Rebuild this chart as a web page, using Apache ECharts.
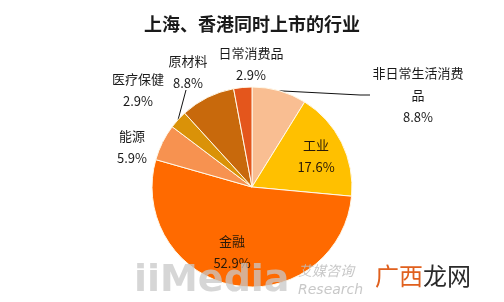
<!DOCTYPE html>
<html><head><meta charset="utf-8">
<script src="https://cdn.jsdelivr.net/npm/echarts@6/dist/echarts.min.js"></script>
<style>html,body{margin:0;padding:0;background:#fff}#c{width:504px;height:302px}</style>
</head><body><div id="c"></div>
<script>
const titleText = '上海、香港同时上市的行业';
const categories = ['非日常生活消费品', '工业', '金融', '能源', '医疗保健', '原材料', '日常消费品'];
const counts = [3, 6, 18, 2, 1, 3, 1];

const colors = ['#F9BE92', '#FFC000', '#FF6A00', '#F79250', '#DA9208', '#C8690C', '#E4561C'];
const labelPos = [[418, 95], [316, 156], [232, 252], [132, 147], [138, 90], [188, 72], [251, 64]];
const showLine = [true, false, false, true, true, false, false];
const inside = [false, true, true, false, false, false, false];

const total = counts.reduce((a, b) => a + b, 0);
const font = '"Noto Sans CJK SC", "Microsoft YaHei", sans-serif';

const data = categories.map((name, i) => ({
  name: name,
  value: counts[i],
  itemStyle: { color: colors[i] },
  label: { position: inside[i] ? 'inside' : 'outside', color: inside[i] ? '#2a1a08' : '#1a1a1a' },
  labelLine: { show: showLine[i] }
}));

const chart = echarts.init(document.getElementById('c'), null, { renderer: 'canvas' });
chart.setOption({
  animation: false,
  title: {
    text: titleText, left: 'center', top: 10,
    textStyle: { fontFamily: font, fontSize: 18, fontWeight: 'bold', color: '#1a1a1a' }
  },
  series: [{
    type: 'pie',
    center: [252, 187],
    radius: 100,
    startAngle: 90,
    clockwise: true,
    avoidLabelOverlap: false,
    itemStyle: { borderColor: '#FFF8E8', borderWidth: 1 },
    label: {
      fontFamily: font, fontSize: 13, lineHeight: 22,
      width: 96, overflow: 'break', align: 'center',
      formatter: p => p.name + '\n' + (p.value / total * 100).toFixed(1) + '%'
    },
    labelLine: { lineStyle: { color: '#111', width: 1 }, length: 10, length2: 10 },
    labelLayout: params => {
      const p = labelPos[params.dataIndex];
      return { x: p[0], y: p[1], align: 'center', verticalAlign: 'middle' };
    },
    data: data
  }],
  graphic: [
    { type: 'text', left: 134, top: 262, z: 100,
      style: { text: 'iiMedia', font: 'bold 38px "DejaVu Sans", sans-serif', fill: 'rgba(200,200,200,0.75)' } },
    { type: 'text', left: 298, top: 264, z: 100,
      style: { text: '艾媒咨询', font: 'italic 14px "Noto Sans CJK SC", sans-serif', fill: 'rgba(190,190,190,0.85)' } },
    { type: 'text', left: 298, top: 283, z: 100,
      style: { text: 'Research', font: 'italic 14px "DejaVu Sans", sans-serif', fill: 'rgba(190,190,190,0.85)' } },
    { type: 'text', left: 375, top: 264, z: 100,
      style: { text: '{a|广西}{b|龙网}', rich: {
        a: { fontFamily: font, fontSize: 24, fill: '#E0601E' },
        b: { fontFamily: font, fontSize: 24, fill: '#2a2a2a' } } } }
  ]
});
</script></body></html>
